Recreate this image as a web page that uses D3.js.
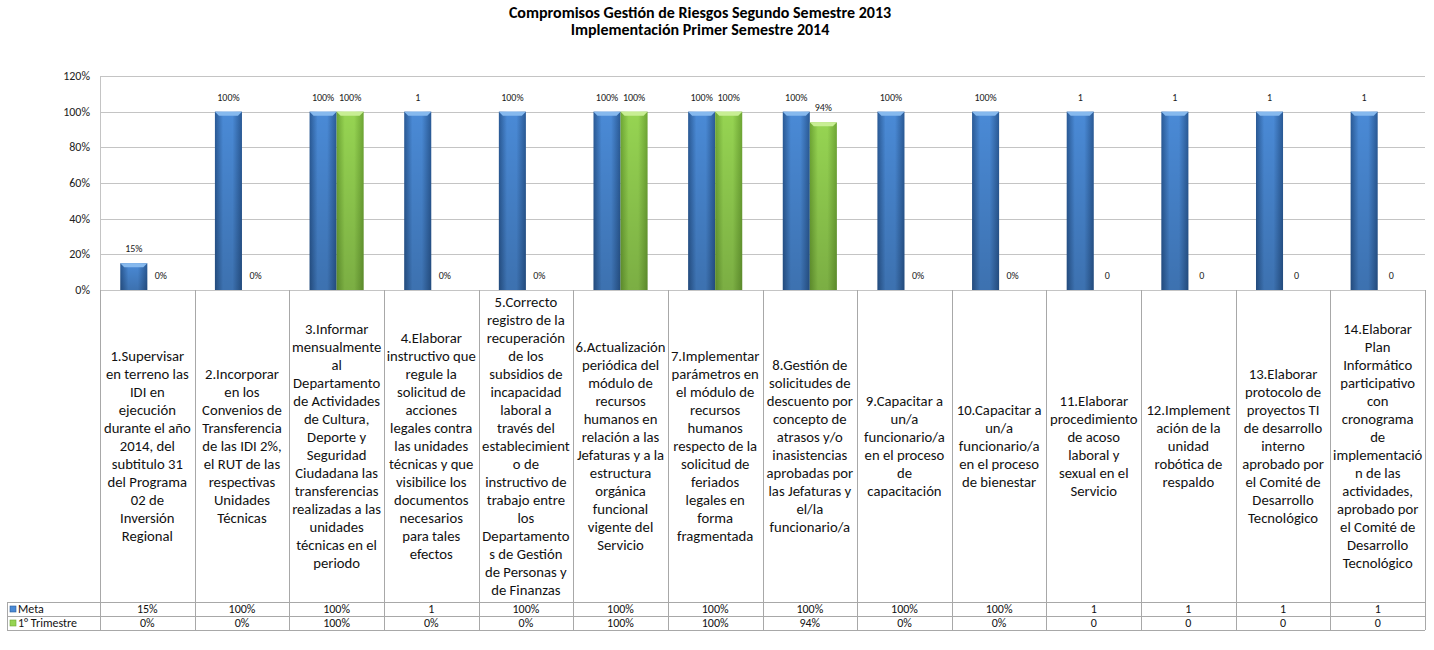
<!DOCTYPE html>
<meta charset="utf-8">
<style>
body { margin: 0; background: #fff; }
svg { font-family: Carlito, Calibri, "Liberation Sans", Arial, sans-serif; }
.title { font-size: 16px; font-weight: bold; text-anchor: middle; fill: #000; }
.tick-label { font-size: 12px; text-anchor: end; fill: #222; }
.bar-label { font-size: 10px; text-anchor: middle; fill: #222; }
.cat-label { font-size: 14.7px; text-anchor: middle; fill: #111; }
.row-label { font-size: 12px; text-anchor: middle; fill: #111; }
.legend-label { font-size: 12px; fill: #111; }
.grid { stroke: #c4c4c4; stroke-width: 1; }
.cell { stroke: #a8a8a8; stroke-width: 1; fill: none; }
</style>
<svg width="1434" height="650"></svg>
<script src="https://d3js.org/d3.v7.min.js"></script>
<script>

var titulo = ["Compromisos Gestión de Riesgos Segundo Semestre 2013",
              "Implementación Primer Semestre 2014"];

var series = ["Meta", "1° Trimestre"];

var categorias = [
  ["1.Supervisar", "en terreno las", "IDI en", "ejecución", "durante el año", "2014, del", "subtitulo 31", "del Programa", "02 de", "Inversión", "Regional"],
  ["2.Incorporar", "en los", "Convenios de", "Transferencia", "de las IDI 2%,", "el RUT de las", "respectivas", "Unidades", "Técnicas"],
  ["3.Informar", "mensualmente", "al", "Departamento", "de Actividades", "de Cultura,", "Deporte y", "Seguridad", "Ciudadana las", "transferencias", "realizadas a las", "unidades", "técnicas en el", "periodo"],
  ["4.Elaborar", "instructivo que", "regule la", "solicitud de", "acciones", "legales contra", "las unidades", "técnicas y que", "visibilice los", "documentos", "necesarios", "para tales", "efectos"],
  ["5.Correcto", "registro de la", "recuperación", "de los", "subsidios de", "incapacidad", "laboral a", "través del", "establecimient", "o de", "instructivo de", "trabajo entre", "los", "Departamento", "s de Gestión", "de Personas y", "de Finanzas"],
  ["6.Actualización", "periódica del", "módulo de", "recursos", "humanos en", "relación a las", "Jefaturas y a la", "estructura", "orgánica", "funcional", "vigente del", "Servicio"],
  ["7.Implementar", "parámetros en", "el módulo de", "recursos", "humanos", "respecto de la", "solicitud de", "feriados", "legales en", "forma", "fragmentada"],
  ["8.Gestión de", "solicitudes de", "descuento por", "concepto de", "atrasos y/o", "inasistencias", "aprobadas por", "las Jefaturas y", "el/la", "funcionario/a"],
  ["9.Capacitar a", "un/a", "funcionario/a", "en el proceso", "de", "capacitación"],
  ["10.Capacitar a", "un/a", "funcionario/a", "en el proceso", "de bienestar"],
  ["11.Elaborar", "procedimiento", "de acoso", "laboral y", "sexual en el", "Servicio"],
  ["12.Implement", "ación de la", "unidad", "robótica de", "respaldo"],
  ["13.Elaborar", "protocolo de", "proyectos TI", "de desarrollo", "interno", "aprobado por", "el Comité de", "Desarrollo", "Tecnológico"],
  ["14.Elaborar", "Plan", "Informático", "participativo", "con", "cronograma", "de", "implementació", "n de las", "actividades,", "aprobado por", "el Comité de", "Desarrollo", "Tecnológico"]
];

var meta      = [0.15, 1, 1, 1, 1, 1, 1, 1, 1, 1, 1, 1, 1, 1];
var trimestre = [0, 0, 1, 0, 0, 1, 1, 0.94, 0, 0, 0, 0, 0, 0];

var metaTexto      = ["15%", "100%", "100%", "1", "100%", "100%", "100%", "100%", "100%", "100%", "1", "1", "1", "1"];
var trimestreTexto = ["0%", "0%", "100%", "0%", "0%", "100%", "100%", "94%", "0%", "0%", "0", "0", "0", "0"];

var yTicks = [0, 0.2, 0.4, 0.6, 0.8, 1, 1.2];

var colores = {
  "Meta":         { edge: "#2a5a96", mid: "#4a8ad6", cap: "#86b9ee" },
  "1° Trimestre": { edge: "#6ea634", mid: "#96d452", cap: "#c8ee94" }
};

var svg = d3.select("svg"),
    plotLeft = 100, plotRight = 1425,
    plotTop = 76, plotZero = 290,
    labelBottom = 602, rowH = 14;

var x = d3.scaleBand()
    .domain(d3.range(categorias.length))
    .range([plotLeft, plotRight])
    .padding(0);

var xs = d3.scaleBand()
    .domain(series)
    .range([0, x.bandwidth()])
    .paddingInner(0)
    .paddingOuter(0.75);

var y = d3.scaleLinear()
    .domain([0, 1.2])
    .range([plotZero, plotTop]);

// gradients
var defs = svg.append("defs");
series.forEach(function(s, i) {
  var g = defs.append("linearGradient")
      .attr("id", "grad" + i)
      .attr("x1", 0).attr("x2", 1).attr("y1", 0).attr("y2", 0);
  g.append("stop").attr("offset", "0%").attr("stop-color", colores[s].edge);
  g.append("stop").attr("offset", "30%").attr("stop-color", colores[s].mid);
  g.append("stop").attr("offset", "65%").attr("stop-color", colores[s].mid);
  g.append("stop").attr("offset", "100%").attr("stop-color", colores[s].edge);
  var v = defs.append("linearGradient")
      .attr("id", "shade" + i)
      .attr("x1", 0).attr("x2", 0).attr("y1", 0).attr("y2", 1);
  v.append("stop").attr("offset", "0%").attr("stop-color", "#000").attr("stop-opacity", 0);
  v.append("stop").attr("offset", "100%").attr("stop-color", "#000").attr("stop-opacity", 0.18);
});

// title
svg.selectAll(".title")
  .data(titulo)
  .enter().append("text")
    .attr("class", "title")
    .attr("x", 700)
    .attr("y", function(d, i) { return 18 + i * 17; })
    .text(function(d) { return d; });

// gridlines + y labels
svg.append("g").selectAll("line")
  .data(yTicks)
  .enter().append("line")
    .attr("class", "grid")
    .attr("x1", plotLeft).attr("x2", plotRight)
    .attr("y1", function(d) { return Math.round(y(d)) + 0.5; })
    .attr("y2", function(d) { return Math.round(y(d)) + 0.5; });

svg.append("g").selectAll("text")
  .data(yTicks)
  .enter().append("text")
    .attr("class", "tick-label")
    .attr("x", 90)
    .attr("y", function(d) { return y(d) + 4; })
    .text(d3.format(".0%"));

// vertical axis line
svg.append("line")
    .attr("class", "grid")
    .attr("x1", plotLeft + 0.5).attr("x2", plotLeft + 0.5)
    .attr("y1", plotTop).attr("y2", labelBottom + 2 * rowH);

// bars
var datos = [];
categorias.forEach(function(c, i) {
  datos.push({ i: i, s: "Meta", si: 0, v: meta[i], t: metaTexto[i] });
  datos.push({ i: i, s: "1° Trimestre", si: 1, v: trimestre[i], t: trimestreTexto[i] });
});

var barras = svg.append("g").selectAll("g")
  .data(datos.filter(function(d) { return d.v > 0; }))
  .enter().append("g");

barras.append("rect")
    .attr("x", function(d) { return x(d.i) + xs(d.s); })
    .attr("y", function(d) { return y(d.v); })
    .attr("width", xs.bandwidth())
    .attr("height", function(d) { return plotZero - y(d.v); })
    .attr("fill", function(d) { return "url(#grad" + d.si + ")"; });

barras.append("rect")
    .attr("x", function(d) { return x(d.i) + xs(d.s); })
    .attr("y", function(d) { return y(d.v); })
    .attr("width", xs.bandwidth())
    .attr("height", function(d) { return plotZero - y(d.v); })
    .attr("fill", function(d) { return "url(#shade" + d.si + ")"; });

barras.append("path")
    .attr("fill", function(d) { return colores[d.s].cap; })
    .attr("d", function(d) {
      var x0 = x(d.i) + xs(d.s), x1 = x0 + xs.bandwidth(), t = y(d.v);
      return "M" + x0 + "," + t + "L" + x1 + "," + t +
             "L" + (x1 - 4) + "," + (t + 4) + "L" + (x0 + 4) + "," + (t + 4) + "Z";
    });

// bar labels
svg.append("g").selectAll("text")
  .data(datos)
  .enter().append("text")
    .attr("class", "bar-label")
    .attr("x", function(d) { return x(d.i) + xs(d.s) + xs.bandwidth() / 2; })
    .attr("y", function(d) { return y(d.v) - 11; })
    .text(function(d) { return d.t; });

// table: category cells
var celdas = svg.append("g");
celdas.selectAll("line.v")
  .data(d3.range(categorias.length + 1))
  .enter().append("line")
    .attr("class", "cell")
    .attr("x1", function(d) { return Math.round(d < categorias.length ? x(d) : plotRight) + 0.5; })
    .attr("x2", function(d) { return Math.round(d < categorias.length ? x(d) : plotRight) + 0.5; })
    .attr("y1", plotZero)
    .attr("y2", labelBottom + 2 * rowH);

[labelBottom, labelBottom + rowH, labelBottom + 2 * rowH].forEach(function(yy) {
  celdas.append("line")
      .attr("class", "cell")
      .attr("x1", 7).attr("x2", plotRight)
      .attr("y1", yy + 0.5).attr("y2", yy + 0.5);
});
celdas.append("line")
    .attr("class", "cell")
    .attr("x1", 7.5).attr("x2", 7.5)
    .attr("y1", labelBottom).attr("y2", labelBottom + 2 * rowH);

var lineH = 18,
    midY = (plotZero + labelBottom) / 2;

celdas.selectAll("text.cat")
  .data(categorias)
  .enter().append("text")
    .attr("class", "cat-label")
    .each(function(lines, i) {
      var t = d3.select(this),
          y0 = midY - (lines.length - 1) * lineH / 2;
      lines.forEach(function(l, k) {
        t.append("tspan")
            .attr("x", x(i) + x.bandwidth() / 2)
            .attr("y", y0 + k * lineH + 5)
            .text(l);
      });
    });

// value rows
var filas = [metaTexto, trimestreTexto];
filas.forEach(function(fila, r) {
  var yy = labelBottom + r * rowH + rowH / 2 + 4;
  celdas.append("g").selectAll("text")
    .data(fila)
    .enter().append("text")
      .attr("class", "row-label")
      .attr("x", function(d, i) { return x(i) + x.bandwidth() / 2; })
      .attr("y", yy)
      .text(function(d) { return d; });

  celdas.append("rect")
      .attr("x", 10).attr("y", labelBottom + r * rowH + 4)
      .attr("width", 6).attr("height", 6)
      .attr("fill", colores[series[r]].mid)
      .attr("stroke", colores[series[r]].edge)
      .attr("stroke-width", 0.6);

  celdas.append("text")
      .attr("class", "legend-label")
      .attr("x", 18)
      .attr("y", yy)
      .text(series[r]);
});

</script>
